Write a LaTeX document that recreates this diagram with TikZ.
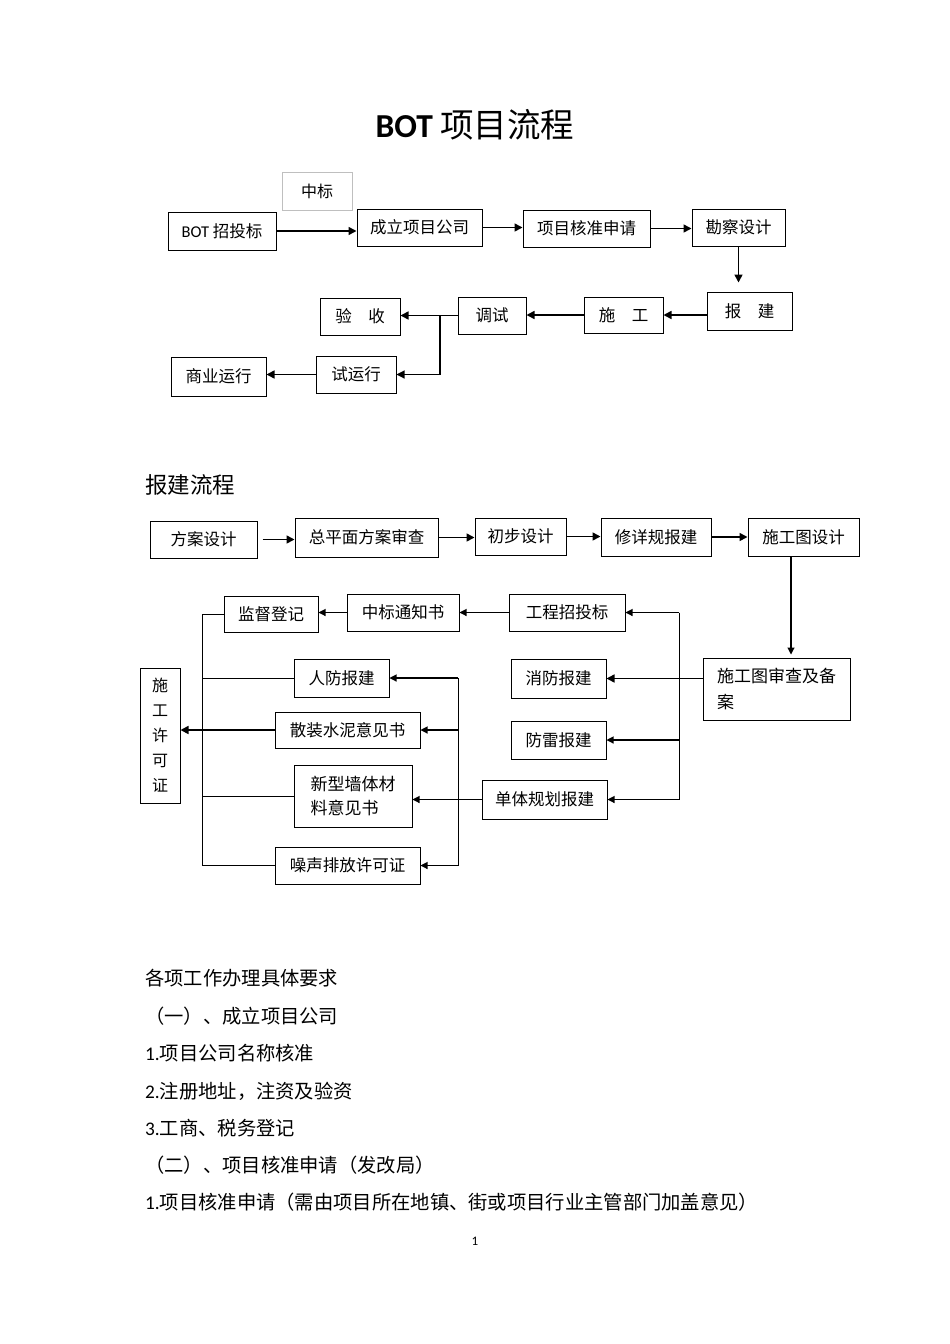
\documentclass[tikz,border=0pt]{standalone}
\usepackage{fontspec}
\setmainfont{Noto Sans CJK SC}
\newfontfamily\latin{Carlito}
\usetikzlibrary{arrows.meta,positioning}

\begin{document}
\begin{tikzpicture}[x=1pt,y=-1pt,
    box/.style={draw,line width=1pt,inner sep=2pt,font=\fontsize{16.5}{19}\selectfont},
    arr/.style={-{Triangle[length=8pt,width=8pt]},line width=1.6pt},
    thinarr/.style={-{Triangle[length=7pt,width=7pt]},line width=1.1pt},
    link/.style={line width=0.8pt},
    body/.style={anchor=west,inner sep=0pt,font=\fontsize{19.3}{22}\selectfont}]
  \useasboundingbox[fill=white] (0,0) rectangle (950,1344);

  % title
  \node[font=\fontsize{33.5}{38}\selectfont] (title) at (475,125) {{\latin\bfseries BOT} 项目流程};

  % BOT flow
  \node[draw=black!25,line width=0.6pt,minimum width=70pt,minimum height=38pt,font=\fontsize{16}{18}\selectfont] (zb) at (317,191) {中标\hspace{8pt}};
  \node[box,minimum width=108pt,minimum height=38pt] (bot) at (222,231) {{\latin BOT} 招投标};
  \node[box,minimum width=125pt,minimum height=37pt] (gs) at (419.5,227.5) {成立项目公司};
  \node[box,minimum width=127pt,minimum height=37pt] (hz) at (586.5,228.5) {项目核准申请};
  \node[box,minimum width=93pt,minimum height=37pt] (kc) at (738.5,227.5) {勘察设计};
  \node[box,minimum width=85pt,minimum height=38pt] (bj) at (749.5,311) {报\quad 建};
  \node[box,minimum width=79pt,minimum height=36pt] (sg) at (623.5,315) {施\quad 工};
  \node[box,minimum width=68pt,minimum height=37pt] (ts) at (492,315.5) {调试};
  \node[box,minimum width=80pt,minimum height=37pt] (ys) at (360,316.5) {验\quad 收};
  \node[box,minimum width=80pt,minimum height=37pt] (syx) at (356,374.5) {试运行};
  \node[box,minimum width=95pt,minimum height=39pt] (syy) at (218.5,376.5) {商业运行};
  \coordinate (tj) at (440,316);

  \draw[arr] (bot.east) -- (bot.east -| gs.west);
  \draw[arr] (gs.east) -- (gs.east -| hz.west);
  \draw[arr] (hz.east) -- (hz.east -| kc.west);
  \draw[arr,shorten >=9pt] (kc.south) -- (kc.south |- bj.north);
  \draw[arr] (bj.west |- sg) -- (sg.east);
  \draw[arr] (sg.west) -- (sg.west -| ts.east);
  \draw[arr] (ts.west) -- (ts.west -| ys.east);
  \draw[arr,line width=1.1pt] (tj) |- (syx.east);
  \draw[arr] (syx.west) -- (syx.west -| syy.east);

  % 报建流程
  \node[anchor=west,inner sep=0pt,font=\fontsize{22.5}{26}\selectfont] (bjlc) at (145,485) {报建流程};
  \node[box,minimum width=107pt,minimum height=37pt] (fa) at (203.5,539.5) {方案设计};
  \node[box,minimum width=143pt,minimum height=39pt] (zpm) at (366.5,537.5) {总平面方案审查};
  \node[box,minimum width=91pt,minimum height=37pt] (cb) at (520.5,536.5) {初步设计};
  \node[box,minimum width=110pt,minimum height=38pt] (xxg) at (656,537) {修详规报建};
  \node[box,minimum width=111pt,minimum height=38pt] (sgt) at (803.5,537) {施工图设计};
  \node[box,minimum width=147pt,minimum height=62pt,align=left,
        font=\fontsize{17}{26}\selectfont] (sc) at (776.5,689) {施工图审查及备\\案};
  \node[box,minimum width=116pt,minimum height=37pt] (gc) at (567,612.5) {工程招投标};
  \node[box,minimum width=112pt,minimum height=37pt] (zbtz) at (403,612.5) {中标通知书};
  \node[box,minimum width=94pt,minimum height=36pt] (jd) at (271,614) {监督登记};
  \node[box,minimum width=95pt,minimum height=39pt] (xf) at (558.5,678.5) {消防报建};
  \node[box,minimum width=95pt,minimum height=38pt] (fl) at (558.5,740) {防雷报建};
  \node[box,minimum width=125pt,minimum height=39pt] (dt) at (544.5,799.5) {单体规划报建};
  \node[box,minimum width=95pt,minimum height=38pt] (rf) at (341.5,678) {人防报建};
  \node[box,minimum width=145pt,minimum height=36pt] (sz) at (347.5,730) {散装水泥意见书};
  \node[box,minimum width=118pt,minimum height=62pt,align=left,
        font=\fontsize{17}{24}\selectfont] (xx) at (353,796) {新型墙体材\\料意见书};
  \node[box,minimum width=145pt,minimum height=37pt] (zs) at (347.5,865.5) {噪声排放许可证};
  \node[box,minimum width=40pt,minimum height=135pt,align=center,
        font=\fontsize{16}{25}\selectfont] (xk) at (160,735.5) {施\\工\\许\\可\\证};
  \coordinate (rx) at (679,0);
  \coordinate (mx) at (458,0);
  \coordinate (lx) at (202,0);

  \draw[arr,shorten <=5pt] (fa.east) -- (fa.east -| zpm.west);
  \draw[arr] (zpm.east) -- (zpm.east -| cb.west);
  \draw[arr] (cb.east) -- (cb.east -| xxg.west);
  \draw[arr] (xxg.east) -- (xxg.east -| sgt.west);
  \draw[thinarr,shorten >=3pt] ([xshift=-12.5pt]sgt.south) -- ([xshift=-12.5pt]sgt.south |- sc.north);
  \draw[arr] (sc.west |- xf) -- (xf.east);
  \draw[link] (rx |- gc) -- (rx |- dt);
  \draw[thinarr] (rx |- gc) -- (gc.east);
  \draw[thinarr] (rx |- fl) -- (fl.east);
  \draw[thinarr] (rx |- dt) -- (dt.east);
  \draw[thinarr] (gc.west) -- (gc.west -| zbtz.east);
  \draw[thinarr] (zbtz.west) -- (zbtz.west -| jd.east);
  \draw[thinarr] (dt.west) -- (dt.west -| xx.east);
  \draw[link] (mx |- rf) -- (mx |- zs);
  \draw[thinarr] (mx |- rf) -- (rf.east);
  \draw[thinarr] (mx |- sz) -- (sz.east);
  \draw[thinarr] (mx |- zs) -- (zs.east);
  \draw[link] (jd.west) -- (lx |- jd) -- (lx |- zs) -- (zs.west);
  \draw[link] (lx |- rf) -- (rf.west);
  \draw[link] (lx |- xx) -- (xx.west);
  \draw[arr] (sz.west) -- (sz.west -| xk.east);

  % requirements
  \node[body] (rq) at (145,978) {各项工作办理具体要求};
  \node[body] (rq1) at (145,1016) {（一）、成立项目公司};
  \node[body] (rq2) at (145,1053) {{\latin 1.}项目公司名称核准};
  \node[body] (rq3) at (145,1091) {{\latin 2.}注册地址，注资及验资};
  \node[body] (rq4) at (145,1128) {{\latin 3.}工商、税务登记};
  \node[body] (rq5) at (145,1165) {（二）、项目核准申请（发改局）};
  \node[body] (rq6) at (145,1202) {{\latin 1.}项目核准申请（需由项目所在地镇、街或项目行业主管部门加盖意见）};
  \node[font=\latin\fontsize{13}{15}\selectfont] (pg) at (475,1241) {1};
\end{tikzpicture}
\end{document}
